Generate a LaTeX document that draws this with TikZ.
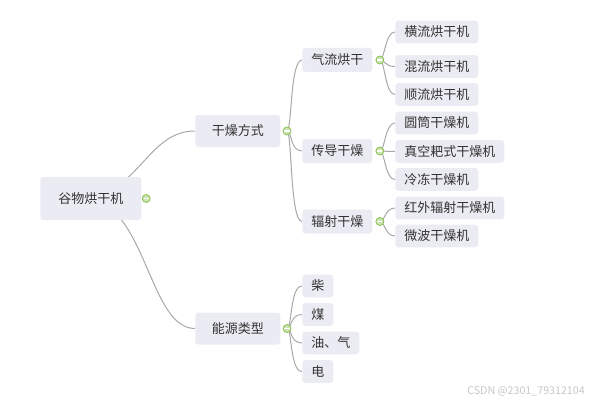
\documentclass[tikz,border=0pt]{standalone}
\usepackage{fontspec}
\setmainfont{Noto Sans CJK SC}
\usepackage{xcolor}
\usepackage{tikz}
\usetikzlibrary{positioning, backgrounds}

\definecolor{topicfill}{HTML}{EBEBF3}
\definecolor{topictext}{HTML}{333333}
\definecolor{branch}{HTML}{A8A8A8}
\definecolor{foldgreen}{HTML}{8CC152}

\begin{document}
\begin{tikzpicture}[
  x=0.75pt, y=-0.75pt,
  topic/.style  = {fill=topicfill, text=topictext, rounded corners=2.25pt,
                   font=\fontsize{9.75pt}{11pt}\selectfont, inner ysep=0pt, anchor=west},
  root/.style   = {topic, inner xsep=13.5pt, minimum height=32.25pt},
  main/.style   = {topic, inner xsep=12.4pt, minimum height=24pt},
  sub/.style    = {topic, inner xsep=6.75pt, minimum height=18pt},
  leaf/.style   = {topic, inner xsep=6.75pt, minimum height=17pt},
  fold/.style   = {circle, draw=foldgreen, fill=foldgreen!45, line width=0.6pt,
                   minimum size=6pt, inner sep=0pt,
                   path picture={\draw[white, line width=0.9pt]
                     ([xshift=-1.9pt]path picture bounding box.center) --
                     ([xshift=1.9pt]path picture bounding box.center);}},
  link/.style   = {draw=branch, line width=0.75pt},
]
\useasboundingbox (0,0) rectangle (603,403);

\node[root] (grain)  at (40,198.5)  {谷物烘干机};
\node[fold, right=0.2pt of grain] (grain-c) {};

\node[main] (dry)    at (195,131)   {干燥方式};
\node[fold, right=1.5pt of dry] (dry-c) {};
\node[main] (energy) at (195,328.5) {能源类型};
\node[fold, right=1.5pt of energy] (energy-c) {};

\node[sub] (air)  at (302,60)    {气流烘干};
\node[fold, right=2.2pt of air] (air-c) {};
\node[sub] (cond) at (302,151)   {传导干燥};
\node[fold, right=2.2pt of cond] (cond-c) {};
\node[sub] (rad)  at (302,221.5) {辐射干燥};
\node[fold, right=2.2pt of rad] (rad-c) {};

\node[leaf] (cross)  at (395,32)    {横流烘干机};
\node[leaf] (mixed)  at (395,66.5)  {混流烘干机};
\node[leaf] (cocur)  at (395,94.5)  {顺流烘干机};
\node[leaf] (drum)   at (395,123)   {圆筒干燥机};
\node[leaf] (vac)    at (395,151.5) {真空耙式干燥机};
\node[leaf] (freeze) at (395,179.5) {冷冻干燥机};
\node[leaf] (ir)     at (395,208)   {红外辐射干燥机};
\node[leaf] (micro)  at (395,236)   {微波干燥机};

\node[leaf] (wood) at (302,286)   {柴};
\node[leaf] (coal) at (302,314.5) {煤};
\node[leaf] (oil)  at (302,343)   {油、气};
\node[leaf] (elec) at (302,371.5) {电};

\node[text=black!22, font=\fontsize{8pt}{9pt}\selectfont] (mark) at (526,391) {CSDN @2301\_79312104};

% branches behind the topics
\begin{pgfonlayer}{background}
\draw[link] (grain.center) .. controls +(50,-12) and +(-45,0) .. (dry.west);
\draw[link] (grain.center) .. controls +(56,12) and +(-45,0) .. (energy.west);

\foreach \k in {air, cond, rad}
  \draw[link] (dry-c.center) .. controls +(5,0) and +(-12,0) .. (\k.west);
\foreach \k in {cross, mixed, cocur}
  \draw[link] (air-c.center) .. controls +(5,0) and +(-10,0) .. (\k.west);
\foreach \k in {drum, vac, freeze}
  \draw[link] (cond-c.center) .. controls +(5,0) and +(-10,0) .. (\k.west);
\foreach \k in {ir, micro}
  \draw[link] (rad-c.center) .. controls +(5,0) and +(-10,0) .. (\k.west);
\foreach \k in {wood, coal, oil, elec}
  \draw[link] (energy-c.center) .. controls +(5,0) and +(-12,0) .. (\k.west);
\end{pgfonlayer}
\end{tikzpicture}
\end{document}
